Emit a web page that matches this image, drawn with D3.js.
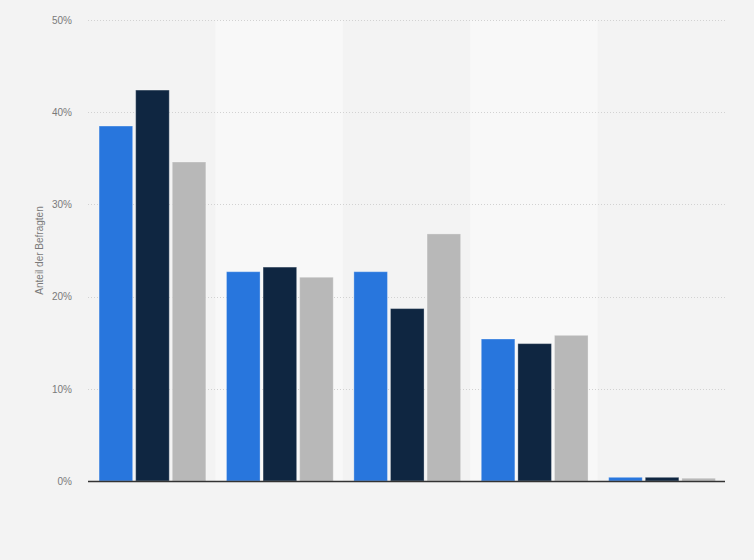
<!DOCTYPE html>
<html>
<head>
<meta charset="utf-8">
<script src="https://cdn.jsdelivr.net/npm/d3@7"></script>
<style>
html,body{margin:0;padding:0;background:#f3f3f3;}
svg{display:block;}
</style>
</head>
<body>
<svg id="chart" width="754" height="560"></svg>
<script>
const categories = ["A", "B", "C", "D", "E"];
const seriesNames = ["Serie 1", "Serie 2", "Serie 3"];
const series1 = [38.5, 22.7, 22.7, 15.4, 0.4];
const series2 = [42.4, 23.2, 18.7, 14.9, 0.4];
const series3 = [34.6, 22.1, 26.8, 15.8, 0.3];
const yTicks = [0, 10, 20, 30, 40, 50];
const colors = ["#2876dd", "#0f2641", "#b8b8b8"];

const allSeries = [series1, series2, series3];
const svg = d3.select("#chart");
const margin = {left: 88, right: 29, top: 20, bottom: 79};
const W = 754, H = 560;
const x0 = d3.scaleBand().domain(categories).range([margin.left, W - margin.right]).padding(0);
const y = d3.scaleLinear().domain([0, 50]).range([H - margin.bottom, margin.top]);
const bw = x0.bandwidth();
const x1 = d3.scaleBand().domain(seriesNames).range([bw * 0.087, bw * 0.925]).paddingInner(0.082).paddingOuter(0);

svg.append("rect").attr("width", W).attr("height", H).attr("fill", "#f3f3f3");

// alternating bands
svg.append("g").selectAll("rect").data(categories.filter((d, i) => i % 2 === 1)).join("rect")
  .attr("x", d => x0(d)).attr("width", bw)
  .attr("y", y(50)).attr("height", y(0) - y(50))
  .attr("fill", "#f8f8f8");

// gridlines
svg.append("g").selectAll("line").data(yTicks.filter(t => t > 0)).join("line")
  .attr("x1", margin.left).attr("x2", W - margin.right)
  .attr("y1", d => Math.round(y(d)) + 0.5).attr("y2", d => Math.round(y(d)) + 0.5)
  .attr("stroke", "#d2d2d2").attr("stroke-width", 1).attr("stroke-dasharray", "1,2");

// y axis labels
const yAxis = d3.axisLeft(y).tickValues(yTicks).tickFormat(d => d + "%").tickSize(0).tickPadding(0);
const ya = svg.append("g").attr("transform", `translate(${72},0)`).call(yAxis);
ya.select(".domain").remove();
ya.selectAll("text").attr("fill", "#7a7a7a").style("font-family", "'Liberation Sans', Arial, sans-serif").style("font-size", "10px");

// bars
const groups = svg.append("g").selectAll("g").data(categories).join("g")
  .attr("transform", d => `translate(${x0(d)},0)`);
groups.selectAll("rect").data((d, i) => seriesNames.map((s, j) => ({s, v: allSeries[j][i], j}))).join("rect")
  .attr("x", d => x1(d.s)).attr("width", x1.bandwidth())
  .attr("y", d => y(d.v)).attr("height", d => y(0) - y(d.v))
  .attr("fill", d => colors[d.j])
  .attr("stroke", "rgba(255,255,255,0.3)").attr("stroke-width", 1);

// baseline
svg.append("line")
  .attr("x1", margin.left).attr("x2", W - margin.right)
  .attr("y1", y(0) + 0.5).attr("y2", y(0) + 0.5)
  .attr("stroke", "#333").attr("stroke-width", 1.3);

// y axis title
svg.append("text")
  .attr("transform", `translate(43,${(y(0) + y(50)) / 2}) rotate(-90)`)
  .attr("text-anchor", "middle")
  .attr("fill", "#7a7a7a")
  .style("font-family", "'Liberation Sans', Arial, sans-serif")
  .style("font-size", "10px")
  .text("Anteil der Befragten");
</script>
</body>
</html>
